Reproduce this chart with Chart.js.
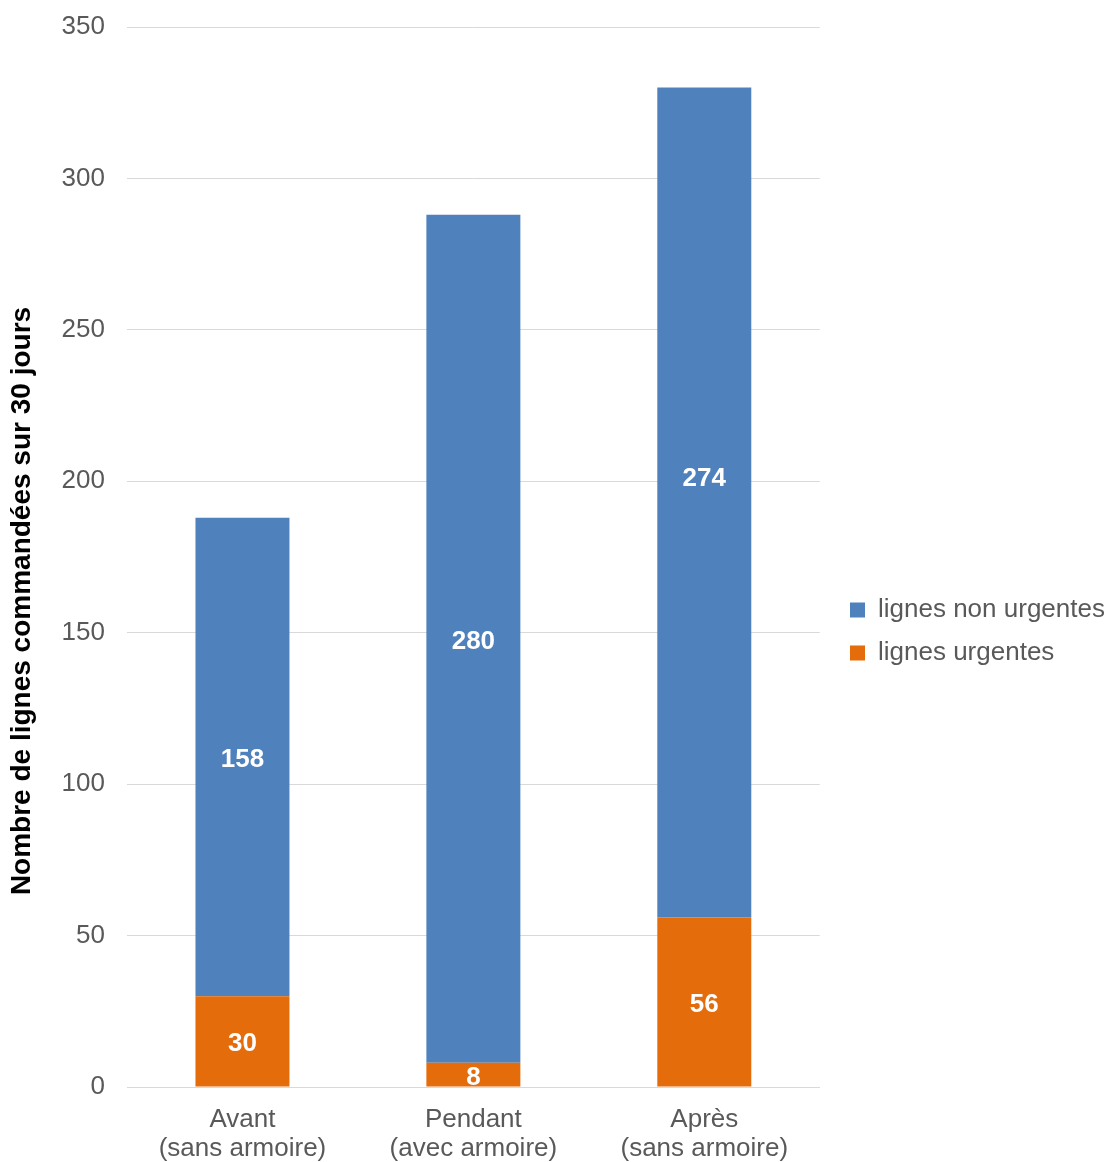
<!DOCTYPE html>
<html>
<head>
<meta charset="utf-8">
<script src="https://cdn.jsdelivr.net/npm/chart.js@4/dist/chart.umd.min.js"></script>
<style>
  html, body { margin: 0; padding: 0; background: #ffffff; overflow: hidden; }
  #wrap { width: 1108px; height: 1162px; position: relative; }
  canvas { display: block; }
</style>
</head>
<body>
<div id="wrap"><canvas id="c" width="1108" height="1162"></canvas></div>
<script>
const categories = [["Avant", "(sans armoire)"], ["Pendant", "(avec armoire)"], ["Après", "(sans armoire)"]];
const urgentes = [30, 8, 56];
const nonUrgentes = [158, 280, 274];
const seriesNames = ["lignes urgentes", "lignes non urgentes"];
const yTicks = [0, 50, 100, 150, 200, 250, 300, 350];
const yTitle = "Nombre de lignes commandées sur 30 jours";

const FONT = "'Liberation Sans', Arial, sans-serif";

const valueLabels = {
  id: 'valueLabels',
  afterDatasetsDraw(chart, args, opts) {
    const ctx = chart.ctx;
    ctx.save();
    ctx.font = "bold 26px " + FONT;
    ctx.fillStyle = "#ffffff";
    ctx.textAlign = "center";
    ctx.textBaseline = "middle";
    chart.data.datasets.forEach((ds, di) => {
      const meta = chart.getDatasetMeta(di);
      meta.data.forEach((bar, i) => {
        const p = bar.getProps(['x', 'y', 'base'], true);
        const off = (opts.offsets && opts.offsets[di] && opts.offsets[di][i]) || 0;
        ctx.fillText(String(ds.data[i]), p.x, (p.y + p.base) / 2 + opts.baseOffset + off);
      });
    });
    ctx.restore();
  }
};

const legendShift = {
  id: 'legendShift',
  afterLayout(chart, args, opts) {
    const l = chart.legend;
    if (!l) return;
    l.top += opts.dy; l.bottom += opts.dy;
    const w = l.width;
    l.left = opts.left; l.right = opts.left + w;
  }
};

// shift the rotated axis title along the axis (text itself unchanged)
const titleShift = {
  id: 'titleShift',
  beforeDraw(chart, args, opts) {
    const s = chart.scales.y;
    s._origDrawTitle = s._origDrawTitle || s.drawTitle;
    s.drawTitle = function() {
      const ctx = this.ctx;
      ctx.save();
      ctx.translate(0, opts.dy);
      this._origDrawTitle();
      ctx.restore();
    };
  }
};

new Chart(document.getElementById('c'), {
  type: 'bar',
  data: {
    labels: categories,
    datasets: [
      { label: seriesNames[0], data: urgentes, backgroundColor: '#E46C0A' },
      { label: seriesNames[1], data: nonUrgentes, backgroundColor: '#4F81BD' }
    ]
  },
  options: {
    responsive: false,
    animation: false,
    devicePixelRatio: 1,
    layout: { padding: { top: 27, right: 15, bottom: 0, left: 0 } },
    datasets: { bar: { barPercentage: 1, categoryPercentage: 0.407 } },
    scales: {
      x: {
        stacked: true,
        grid: { display: false, drawTicks: false },
        border: { display: true, color: '#d9d9d9', width: 1 },
        ticks: { color: '#595959', font: { family: FONT, size: 26, lineHeight: 1.12 }, padding: 18, maxRotation: 0 },
        afterFit(s) { s.height = 75; s.paddingLeft = 0; s.paddingRight = 0; }
      },
      y: {
        stacked: true,
        min: 0, max: 350,
        afterBuildTicks(s) { s.ticks = yTicks.map(v => ({ value: v })); },
        grid: { color: '#d9d9d9', lineWidth: 1, drawTicks: false },
        border: { display: false },
        ticks: { color: '#595959', font: { family: FONT, size: 26 }, padding: 22 },
        title: { display: true, text: yTitle, color: '#000000', font: { family: FONT, size: 28, weight: 'bold' }, padding: { top: 5, bottom: 0 } },
        afterFit(s) { s.width = 127; s.paddingTop = 0; s.paddingBottom = 0; }
      }
    },
    plugins: {
      legend: {
        position: 'right',
        reverse: true,
        labels: {
          boxWidth: 15, boxHeight: 15, padding: 17,
          color: '#595959',
          font: { family: FONT, size: 26 }
        }
      },
      tooltip: { enabled: false },
      valueLabels: { baseOffset: 3, offsets: [[0, 0, 0], [0, 0, -27]] },
      legendShift: { dy: 37, left: 833 },
      titleShift: { dy: 44 }
    }
  },
  plugins: [valueLabels, legendShift, titleShift]
});
</script>
</body>
</html>
